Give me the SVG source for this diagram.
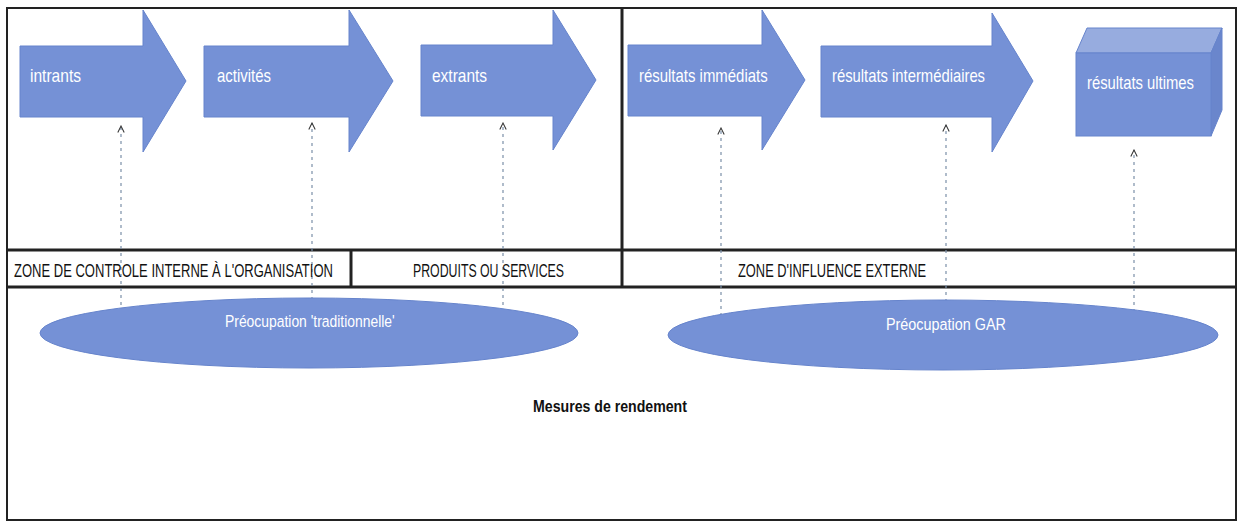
<svg xmlns="http://www.w3.org/2000/svg" width="1239" height="527" viewBox="0 0 1239 527">
<defs>
<style>
.shape{fill:#7591d6;stroke:#6684cc;stroke-width:1}
.top{fill:#97acdf;stroke:#6684cc;stroke-width:1}
.side{fill:#6a86cc;stroke:#6684cc;stroke-width:1}
.lbl{font-family:"Liberation Sans",Arial,sans-serif;font-size:18px;fill:#ffffff}
.ell{font-family:"Liberation Sans",Arial,sans-serif;font-size:17px;fill:#ffffff}
.row{font-family:"Liberation Sans",Arial,sans-serif;font-size:18px;fill:#111111}
.bold{font-family:"Liberation Sans",Arial,sans-serif;font-size:17px;font-weight:bold;fill:#111111}
.frame{fill:none;stroke:#222222;stroke-width:2}
.thick{stroke:#222222;stroke-width:3}
.dash{stroke:#7b8fa8;stroke-width:1.2;stroke-dasharray:3 4;fill:none}
</style>
<marker id="ah" viewBox="0 0 10 10" refX="9" refY="5" markerWidth="8" markerHeight="8" orient="auto" markerUnits="userSpaceOnUse">
<path d="M1,1 L9,5 L1,9" fill="none" stroke="#333333" stroke-width="1.3"/>
</marker>
</defs>
<rect x="0" y="0" width="1239" height="527" fill="#ffffff"/>

<g id="frame">
<rect class="frame" x="7" y="8" width="1229" height="512"/>
<line class="thick" x1="7" y1="250" x2="1236" y2="250"/>
<line class="thick" x1="7" y1="287" x2="1236" y2="287"/>
<line class="thick" x1="622" y1="8" x2="622" y2="287"/>
<line class="thick" x1="351" y1="250" x2="351" y2="287"/>
</g>

<g id="connectors">
<line class="dash" x1="121" y1="312" x2="121" y2="126" marker-end="url(#ah)"/>
<line class="dash" x1="312" y1="300" x2="312" y2="123" marker-end="url(#ah)"/>
<line class="dash" x1="503" y1="312" x2="503" y2="123" marker-end="url(#ah)"/>
<line class="dash" x1="721" y1="316" x2="721" y2="128" marker-end="url(#ah)"/>
<line class="dash" x1="946" y1="302" x2="946" y2="125" marker-end="url(#ah)"/>
<line class="dash" x1="1134" y1="312" x2="1134" y2="150" marker-end="url(#ah)"/>
</g>

<g id="intrants">
<path class="shape" d="M20,46 H143 V10 L186,81 L143,152 V117 H20 Z"/>
<text class="lbl" transform="translate(30,82) scale(0.86,1)" textLength="59.3" lengthAdjust="spacingAndGlyphs">intrants</text>
</g>
<g id="activites">
<path class="shape" d="M204,46 H349 V10 L393,81 L349,152 V117 H204 Z"/>
<text class="lbl" transform="translate(217,82) scale(0.83,1)" textLength="65" lengthAdjust="spacingAndGlyphs">activités</text>
</g>
<g id="extrants">
<path class="shape" d="M421,45 H553 V10 L596,80 L553,150 V116 H421 Z"/>
<text class="lbl" transform="translate(432,82) scale(0.86,1)" textLength="64" lengthAdjust="spacingAndGlyphs">extrants</text>
</g>
<g id="resultats-immediats">
<path class="shape" d="M628,45 H762 V10 L805,80 L762,150 V116 H628 Z"/>
<text class="lbl" transform="translate(639,82) scale(0.83,1)" textLength="155" lengthAdjust="spacingAndGlyphs">résultats immédiats</text>
</g>
<g id="resultats-intermediaires">
<path class="shape" d="M821,46 H992 V13 L1033,81 L992,152 V117 H821 Z"/>
<text class="lbl" transform="translate(832,82) scale(0.82,1)" textLength="186.6" lengthAdjust="spacingAndGlyphs">résultats intermédiaires</text>
</g>
<g id="resultats-ultimes">
<polygon class="top" points="1076,53 1087,28 1222,28 1211,53"/>
<polygon class="side" points="1211,53 1222,28 1222,110 1211,136"/>
<rect class="shape" x="1076" y="53" width="135" height="83"/>
<text class="lbl" transform="translate(1087,89) scale(0.82,1)" textLength="130.5" lengthAdjust="spacingAndGlyphs">résultats ultimes</text>
</g>

<g id="zone-controle">
<text class="row" transform="translate(14,277) scale(0.72,1)" textLength="443" lengthAdjust="spacingAndGlyphs">ZONE DE CONTROLE INTERNE À L'ORGANISATION</text>
</g>
<g id="produits">
<text class="row" transform="translate(413,277) scale(0.68,1)" textLength="222" lengthAdjust="spacingAndGlyphs">PRODUITS OU SERVICES</text>
</g>
<g id="zone-influence">
<text class="row" transform="translate(738,277) scale(0.71,1)" textLength="265" lengthAdjust="spacingAndGlyphs">ZONE D'INFLUENCE EXTERNE</text>
</g>

<g id="preoccupation-traditionnelle">
<ellipse class="shape" cx="309" cy="333" rx="269" ry="35"/>
<text class="ell" transform="translate(225,327) scale(0.82,1)" textLength="207" lengthAdjust="spacingAndGlyphs">Préocupation 'traditionnelle'</text>
</g>
<g id="preoccupation-gar">
<ellipse class="shape" cx="943" cy="335" rx="275" ry="35"/>
<text class="ell" transform="translate(886,330) scale(0.85,1)" textLength="141" lengthAdjust="spacingAndGlyphs">Préocupation GAR</text>
</g>

<g id="mesures">
<text class="bold" transform="translate(533,412) scale(0.83,1)" textLength="185.5" lengthAdjust="spacingAndGlyphs">Mesures de rendement</text>
</g>
</svg>
